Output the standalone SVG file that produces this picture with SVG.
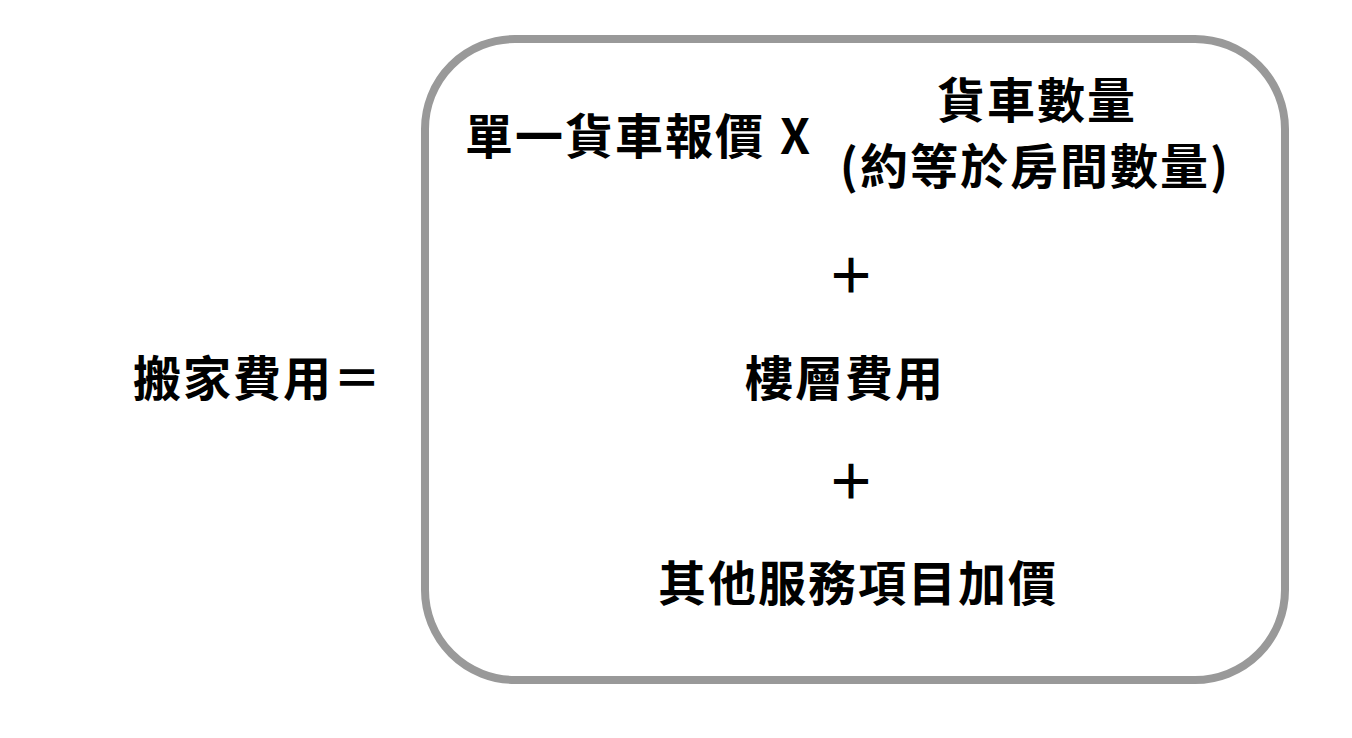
<svg xmlns="http://www.w3.org/2000/svg" width="1352" height="738" viewBox="0 0 1352 738">
<style>
text{font-family:"Noto Sans CJK TC","Noto Sans CJK SC","Liberation Sans",sans-serif;font-weight:bold;fill:#000;font-size:48px;dominant-baseline:central;letter-spacing:2px}
.c{text-anchor:middle}
</style>
<rect width="1352" height="738" fill="#fff"/>
<g id="box"><rect x="425" y="39" width="860" height="641" rx="90" ry="90" fill="none" stroke="#999" stroke-width="8"/></g>
<g id="lhs"><text x="133" y="375">搬家費用＝</text></g>
<g id="term1">
<text x="465" y="133">單一貨車報價</text>
<text x="780" y="133" font-family="Liberation Sans,sans-serif">X</text>
<text class="c" x="1037" y="97">貨車數量</text>
<text class="c" x="1035" y="163">(約等於房間數量)</text>
</g>
<g id="plus1"><text class="c" x="852" y="272" font-weight="normal">＋</text></g>
<g id="term2"><text class="c" x="845" y="375">樓層費用</text></g>
<g id="plus2"><text class="c" x="852" y="478" font-weight="normal">＋</text></g>
<g id="term3"><text class="c" x="858" y="580">其他服務項目加價</text></g>
<g id="connectors"/>
</svg>
